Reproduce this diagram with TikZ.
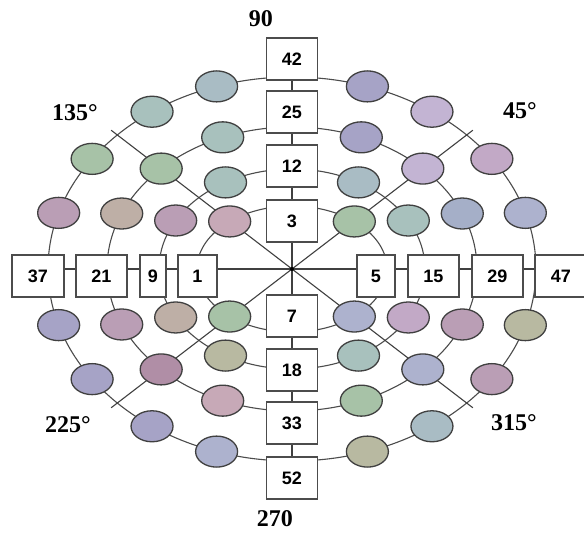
\documentclass[tikz,border=0pt]{standalone}
\usepackage{fontspec}
\setmainfont{Liberation Serif}
\setsansfont{Liberation Sans}
\usetikzlibrary{shapes.geometric,backgrounds}
\definecolor{teal}{HTML}{A8C1BD}
\definecolor{tealgray}{HTML}{A9BCC4}
\definecolor{green}{HTML}{A7C2A7}
\definecolor{slate}{HTML}{A6A3C6}
\definecolor{lilac}{HTML}{C3B4D3}
\definecolor{pinklilac}{HTML}{C2A9C6}
\definecolor{mauve}{HTML}{BA9EB5}
\definecolor{pink}{HTML}{C7A9B7}
\definecolor{redmauve}{HTML}{B08EA6}
\definecolor{olive}{HTML}{B8B9A1}
\definecolor{tan}{HTML}{BEAFA6}
\definecolor{bluelilac}{HTML}{ADB2CE}
\definecolor{blueslate}{HTML}{A5AFC8}
\tikzset{
  numbox/.style={rectangle, draw=black!70, line width=1.2pt, fill=white,
    minimum width=51pt, minimum height=42pt, inner sep=0pt,
    font=\sffamily\bfseries\fontsize{18}{20}\selectfont},
  disc/.style={ellipse, draw=black!75, line width=1.3pt,
    minimum width=42pt, minimum height=31pt, inner sep=0pt},
  ring/.style={draw=black!70, line width=1.1pt},
  spoke/.style={draw=black!75, line width=1.1pt},
  deg/.style={inner sep=0pt, font=\bfseries\fontsize{24}{26}\selectfont},
}

\begin{document}
\begin{tikzpicture}[x=1pt, y=1pt]
    \path[use as bounding box] (-292,-266) rectangle (292,269);
    \node[circle, fill=black, inner sep=0pt, minimum size=4pt] (o) at (0,0) {};

    % number boxes on the axes
    \node[numbox] (b42) at (0,210) {42};
    \node[numbox] (b25) at (0,157) {25};
    \node[numbox] (b12) at (0,103) {12};
    \node[numbox] (b3) at (0,48) {3};
    \node[numbox] (b7) at (0,-47) {7};
    \node[numbox] (b18) at (0,-101) {18};
    \node[numbox] (b33) at (0,-154) {33};
    \node[numbox] (b52) at (0,-209) {52};
    \node[numbox, minimum width=52pt] (b37) at (-254,-7) {37};
    \node[numbox] (b21) at (-190.5,-7) {21};
    \node[numbox, minimum width=26pt] (b9) at (-139,-7) {9};
    \node[numbox, minimum width=39pt] (b1) at (-94.5,-7) {1};
    \node[numbox, minimum width=38pt] (b5) at (84,-7) {5};
    \node[numbox] (b15) at (141.5,-7) {15};
    \node[numbox] (b29) at (205.5,-7) {29};
    \node[numbox, minimum width=52pt] (b47) at (269,-7) {47};

    % discs on the rings
    \foreach \t/\c in {17/bluelilac,35/pinklilac,55/lilac,72/slate,
        108/tealgray,125/teal,145/green,163/mauve,
        197/slate,215/slate,235/slate,252/bluelilac,
        288/olive,305/tealgray,325/mauve,343/olive}
      \node[disc, fill=\c] (p4-\t) at ({244*cos(\t)},{192*sin(\t)}) {};
    \foreach \t/\c in {23/blueslate,45/lilac,68/slate,
        112/teal,135/green,157/tan,
        203/mauve,225/redmauve,248/pink,
        292/green,315/bluelilac,337/mauve}
      \node[disc, fill=\c] (p3-\t) at ({185*cos(\t)},{142*sin(\t)}) {};
    \foreach \t/\c in {29/teal,60/tealgray,120/teal,151/mauve,
        209/tan,240/olive,300/teal,331/pinklilac}
      \node[disc, fill=\c] (p2-\t) at ({133*cos(\t)},{100*sin(\t)}) {};
    \foreach \t/\c in {49/green,131/pink,229/green,311/bluelilac}
      \node[disc, fill=\c] (p1-\t) at ({95*cos(\t)},{63*sin(\t)}) {};

    \coordinate (d45) at (37.5:228);
    \coordinate (d135) at (142.5:228);
    \coordinate (d225) at (217.5:228);
    \coordinate (d315) at (322.5:228);

    \node[deg] (l90) at (-31,250) {90};
    \node[deg] (l270) at (-17,-250) {270};
    \node[deg] (l135) at (-217,156) {135°};
    \node[deg] (l45) at (228,158) {45°};
    \node[deg] (l225) at (-224,-156) {225°};
    \node[deg] (l315) at (222,-154) {315°};

    \begin{scope}[on background layer]
      \fill[white] (-292,-266) rectangle (292,269);
      \foreach \a/\b in {95/63,133/100,185/142,244/192}
        \draw[ring] (o.center) ellipse [x radius=\a pt, y radius=\b pt];
      \draw[spoke] (b42) -- (b52);
      \draw[spoke] (b37.center |- o) -- (b47.center |- o);
      \draw[spoke] (d45) -- (d225);
      \draw[spoke] (d135) -- (d315);
    \end{scope}
\end{tikzpicture}
\end{document}
